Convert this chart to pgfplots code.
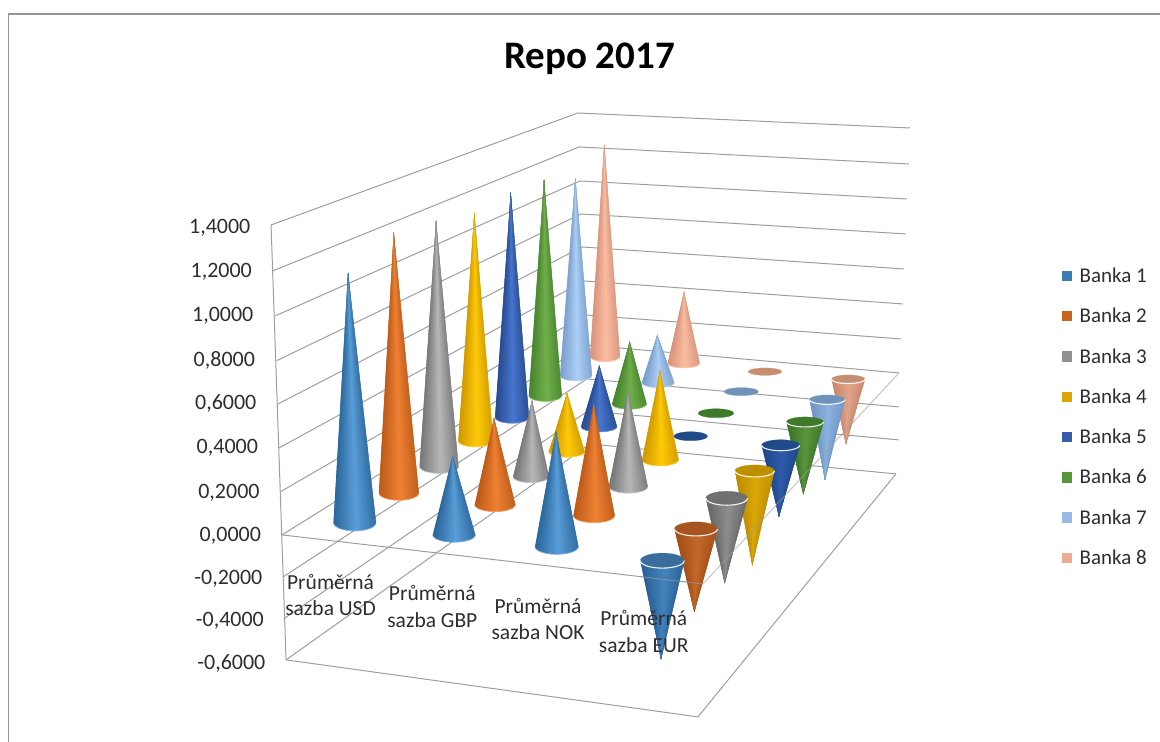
\documentclass[border=0pt]{standalone}
\usepackage{pgfplots}
\pgfplotsset{compat=1.18}
\usepackage{fontspec}
\setmainfont{Carlito}

% series palette: e/h = edge and highlight of upright cones,
% d/l = edge and highlight of hanging cones, i = inside of the opening
\definecolor{b1e}{HTML}{2A679C}\definecolor{b1h}{HTML}{5A9ED8}\definecolor{b1d}{HTML}{2A5F96}\definecolor{b1l}{HTML}{4483BE}\definecolor{b1i}{HTML}{3B6D9C}
\definecolor{b2e}{HTML}{BC5A1A}\definecolor{b2h}{HTML}{F08232}\definecolor{b2d}{HTML}{A04E18}\definecolor{b2l}{HTML}{C4682A}\definecolor{b2i}{HTML}{A8541F}
\definecolor{b3e}{HTML}{767676}\definecolor{b3h}{HTML}{B8B8B8}\definecolor{b3d}{HTML}{666666}\definecolor{b3l}{HTML}{8E8E8E}\definecolor{b3i}{HTML}{707070}
\definecolor{b4e}{HTML}{D09A00}\definecolor{b4h}{HTML}{FFCA08}\definecolor{b4d}{HTML}{BC8C00}\definecolor{b4l}{HTML}{DCA808}\definecolor{b4i}{HTML}{BE9000}
\definecolor{b5e}{HTML}{264A90}\definecolor{b5h}{HTML}{4876CE}\definecolor{b5d}{HTML}{1F4686}\definecolor{b5l}{HTML}{2F5CAC}\definecolor{b5i}{HTML}{1F4A8A}
\definecolor{b6e}{HTML}{46852F}\definecolor{b6h}{HTML}{72B04A}\definecolor{b6d}{HTML}{3C7428}\definecolor{b6l}{HTML}{5A963C}\definecolor{b6i}{HTML}{3F7A2C}
\definecolor{b7e}{HTML}{7A9FCB}\definecolor{b7h}{HTML}{ADD0F8}\definecolor{b7d}{HTML}{6C94C4}\definecolor{b7l}{HTML}{8CB2DE}\definecolor{b7i}{HTML}{7093BC}
\definecolor{b8e}{HTML}{D8947A}\definecolor{b8h}{HTML}{FCBDA2}\definecolor{b8d}{HTML}{C8866A}\definecolor{b8l}{HTML}{E0A48A}\definecolor{b8i}{HTML}{C78E72}
\definecolor{gridgray}{HTML}{9E9E9E}
\definecolor{labeltext}{HTML}{2E2E2E}

% point on the front half of a base ellipse
\newcommand{\rimpoint}[5]{%
  \pgfmathsetmacro{\px}{#1+#3*sin(#5)}%
  \pgfmathsetmacro{\py}{#2+#4*cos(#5)}}

% cone side as a fan of overlapping facets, shaded across its width;
% each facet reaches over the next one, so that no seam shows between them
% args: base x, base y, radius x, radius y, tip x, tip y, edge colour, highlight colour
\newcommand{\conefan}[8]{%
  \pgfplotsforeachungrouped \k in {0,...,23}{%
    \pgfmathsetmacro{\tha}{-90+7.5*\k}%
    \pgfmathsetmacro{\thb}{min(90,\tha+15)}%
    \pgfmathsetmacro{\thc}{\tha+7.5}%
    \pgfmathsetmacro{\um}{(1+sin(\tha+3.75))/2}%
    \pgfmathtruncatemacro{\mixp}{100*max(0.02,1-abs(\um-0.55)/0.55)}%
    \rimpoint{#1}{#2}{#3}{#4}{\tha}\let\ax\px\let\ay\py
    \rimpoint{#1}{#2}{#3}{#4}{\thc}\let\cx\px\let\cy\py
    \rimpoint{#1}{#2}{#3}{#4}{\thb}\let\bx\px\let\by\py
    \edef\temp{\noexpand\addplot[forget plot,fill=#8!\mixp!#7,draw=none]
      coordinates {(#5,#6)(\ax,\ay)(\cx,\cy)(\bx,\by)} --cycle;}\temp
  }}

% polyline along the front rim of a base
\newcommand{\rimline}[6]{%
  \def\pts{}%
  \pgfplotsforeachungrouped \k in {0,...,16}{%
    \pgfmathsetmacro{\tha}{-90+11.25*\k}%
    \rimpoint{#1}{#2}{#3}{#4}{\tha}%
    \edef\pts{\pts(\px,\py)}}%
  \edef\temp{\noexpand\addplot[forget plot,draw=#5,line width=#6] coordinates {\pts};}\temp}

% flat ellipse
\newcommand{\disc}[5]{%
  \def\pts{}%
  \pgfplotsforeachungrouped \k in {0,...,31}{%
    \pgfmathsetmacro{\tha}{11.25*\k}%
    \rimpoint{#1}{#2}{#3}{#4}{\tha}%
    \edef\pts{\pts(\px,\py)}}%
  \edef\temp{\noexpand\addplot[forget plot,fill=#5,draw=#5,line width=0.2pt] coordinates {\pts} --cycle;}\temp}

% positive value: cone rising from its base
\newcommand{\cone}[7]{%
  \conefan{#1}{#2}{#3}{#4}{#5}{#6}{#7e}{#7h}%
  \rimline{#1}{#2}{#3}{#4}{#7h!75!white}{0.6pt}}

% negative value: cone hanging below an open top
\newcommand{\hangcone}[7]{%
  \conefan{#1}{#2}{#3}{#4}{#5}{#6}{#7d}{#7l}%
  \disc{#1}{#2}{#3}{#4}{#7i}%
  \rimline{#1}{#2}{#3}{#4}{white!90!#7l}{1.1pt}}

\begin{document}
\begin{tikzpicture}
\begin{axis}[
  scale only axis, width=1160pt, height=742pt,
  xmin=0, xmax=1160, ymin=0, ymax=742, y dir=reverse,
  axis line style={draw=none},
  xtick=\empty,
  major tick length=0pt,
  ytick={226,270,314,358,402,446,491,534,577,619,662},
  yticklabels={{1,4000\rule{15pt}{0pt}},{1,2000\rule{13.5pt}{0pt}},{1,0000\rule{12pt}{0pt}},{0,8000\rule{10.4pt}{0pt}},{0,6000\rule{9pt}{0pt}},{0,4000\rule{7.4pt}{0pt}},{0,2000\rule{5.8pt}{0pt}},{0,0000\rule{4.4pt}{0pt}},{-0,2000\rule{3pt}{0pt}},{-0,4000\rule{1.5pt}{0pt}},{-0,6000}},
  yticklabel style={anchor=east, xshift=265.5pt, yshift=-2pt, inner sep=0pt, font=\fontsize{22}{22}\selectfont, text=labeltext},
  legend style={at={(axis cs:1062,268)}, anchor=north west, draw=none, fill=none,
    inner sep=0pt, outer sep=0pt, row sep=24.2pt,
    font=\fontsize{21}{21}\selectfont, text=labeltext,
    nodes={inner sep=0pt, outer sep=0pt}},
  legend cell align=left,
  legend image code/.code={\fill[#1,draw=none] (0pt,-5.2pt) rectangle (10.5pt,5.2pt); \path (17.5pt,0pt);},
]

% chart area frame
\addplot[forget plot, draw=black!42, line width=1.1pt] coordinates {(8,742)(8,14)(1160,14)};

% wall gridlines, one per axis level: left wall, then back wall
\addplot[forget plot, draw=gridgray, line width=1pt] coordinates {(271,225)(578,113)(910,128)};
\addplot[forget plot, draw=gridgray, line width=1pt] coordinates {(272.5,271)(579,147)(909,164)};
\addplot[forget plot, draw=gridgray, line width=1pt] coordinates {(275,316)(580,181)(907,199)};
\addplot[forget plot, draw=gridgray, line width=1pt] coordinates {(276.7,360.7)(581,214)(906,234)};
\addplot[forget plot, draw=gridgray, line width=1pt] coordinates {(278,404)(582,247)(904,269)};
\addplot[forget plot, draw=gridgray, line width=1pt] coordinates {(279,448)(584,281)(903,304)};
\addplot[forget plot, draw=gridgray, line width=1pt] coordinates {(280.7,491.7)(585,315)(901,339)};
\addplot[forget plot, draw=gridgray, line width=1pt] coordinates {(282,535)(586,345)(899,373)};
\addplot[forget plot, draw=gridgray, line width=1pt] coordinates {(283,577)(587,379)(899,407)};
\addplot[forget plot, draw=gridgray, line width=1pt] coordinates {(285,618)(588,411)(899,440)};
\addplot[forget plot, draw=gridgray, line width=1pt] coordinates {(286,660)(590,444)(896,474)};
% value axis line and floor outline
\addplot[forget plot, draw=gridgray, line width=1pt] coordinates {(271,225)(286,660)(698,717)(896,474)};
\addplot[forget plot, draw=gridgray, line width=1pt] coordinates {(282,535)(703,584)};

% cones, furthest series first; in each series USD, GBP, NOK, EUR
\cone{605}{356.7}{15}{5}{604.3}{145}{b8}
\cone{683.7}{363.3}{16}{4.7}{684}{291.7}{b8}
\disc{765}{371.7}{16.7}{3.7}{b8i}
\hangcone{848.3}{379.3}{16.7}{4.3}{846}{444.3}{b8}

\cone{576}{375.7}{16}{5.3}{575.3}{178.3}{b7}
\cone{658}{382.7}{16.3}{5}{657.3}{335}{b7}
\disc{741.3}{391.7}{17}{4}{b7i}
\hangcone{827.3}{399.7}{17.7}{4.7}{825}{480}{b7}

\cone{545.3}{395.7}{16.5}{5.7}{544}{180}{b6}
\cone{629.3}{404}{17.3}{5.3}{629.7}{341.7}{b6}
\disc{716}{413.3}{17.7}{4.5}{b6i}
\hangcone{805}{422}{18.5}{5}{803.3}{494.3}{b6}

\cone{512}{417.3}{17}{6}{510.7}{192.7}{b5}
\cone{599}{426.7}{18}{5.3}{599.3}{365.7}{b5}
\disc{690.7}{436.3}{16.7}{4.5}{b5i}
\hangcone{780.7}{445.3}{19}{5.5}{779}{516.7}{b5}

\cone{475.7}{441}{17.5}{6}{474.3}{213}{b4}
\cone{566.7}{451.7}{18}{5.5}{567}{393.3}{b4}
\cone{660.3}{460}{18.3}{6}{660}{370.7}{b4}
\hangcone{754.7}{471}{19.7}{6}{752.3}{565.3}{b4}

\cone{439}{466.7}{19.5}{6.7}{436}{220.7}{b3}
\cone{531}{476.7}{18}{6}{532}{400.7}{b3}
\cone{628.3}{486.7}{19.5}{6.5}{628}{391.7}{b3}
\hangcone{726.7}{498.3}{20.8}{7}{724.7}{583.3}{b3}

\cone{398.8}{493}{20}{7.3}{393.7}{232.7}{b2}
\cone{495}{504.7}{20.3}{7}{494}{418.3}{b2}
\cone{594}{515.7}{20.7}{7}{593.7}{404}{b2}
\hangcone{696}{529}{21.5}{7}{694.3}{612}{b2}

\cone{354.7}{522.7}{21.3}{8.3}{348}{273}{b1}
\cone{454}{535}{21.3}{7.3}{452.7}{456}{b1}
\cone{556.7}{546.7}{21.7}{7.7}{556}{431.7}{b1}
\hangcone{662.3}{560.7}{22}{7.5}{661}{659.3}{b1}

% edges of the zero plane stay visible across the hanging cones
\addplot[forget plot, draw=gridgray, line width=1pt, opacity=0.6] coordinates {(640,576.7)(703,584)(899,373)};

% legend
\addlegendimage{fill=b1e!60!b1h}\addlegendentry{Banka 1}
\addlegendimage{fill=b2e!75!b2h}\addlegendentry{Banka 2}
\addlegendimage{fill=b3e!60!b3h}\addlegendentry{Banka 3}
\addlegendimage{fill=b4e!75!b4h}\addlegendentry{Banka 4}
\addlegendimage{fill=b5e!60!b5h}\addlegendentry{Banka 5}
\addlegendimage{fill=b6e!60!b6h}\addlegendentry{Banka 6}
\addlegendimage{fill=b7e!40!b7h}\addlegendentry{Banka 7}
\addlegendimage{fill=b8e!40!b8h}\addlegendentry{Banka 8}

% title and category names
\node[anchor=center, font=\fontsize{39}{39}\selectfont\bfseries, text=black] at (axis cs:589.5,59) {Repo 2017};
\node[align=center, font=\fontsize{21.5}{26.5}\selectfont, text=labeltext] at (axis cs:330.5,595) {Průměrná\\sazba USD};
\node[align=center, font=\fontsize{21.5}{26.5}\selectfont, text=labeltext] at (axis cs:432.3,606.7) {Průměrná\\sazba GBP};
\node[align=center, font=\fontsize{21.5}{26.5}\selectfont, text=labeltext] at (axis cs:538,619) {Průměrná\\sazba NOK};
\node[align=center, font=\fontsize{21.5}{26.5}\selectfont, text=labeltext] at (axis cs:643.7,631.7) {Průměrná\\sazba EUR};
\end{axis}
\end{tikzpicture}
\end{document}
